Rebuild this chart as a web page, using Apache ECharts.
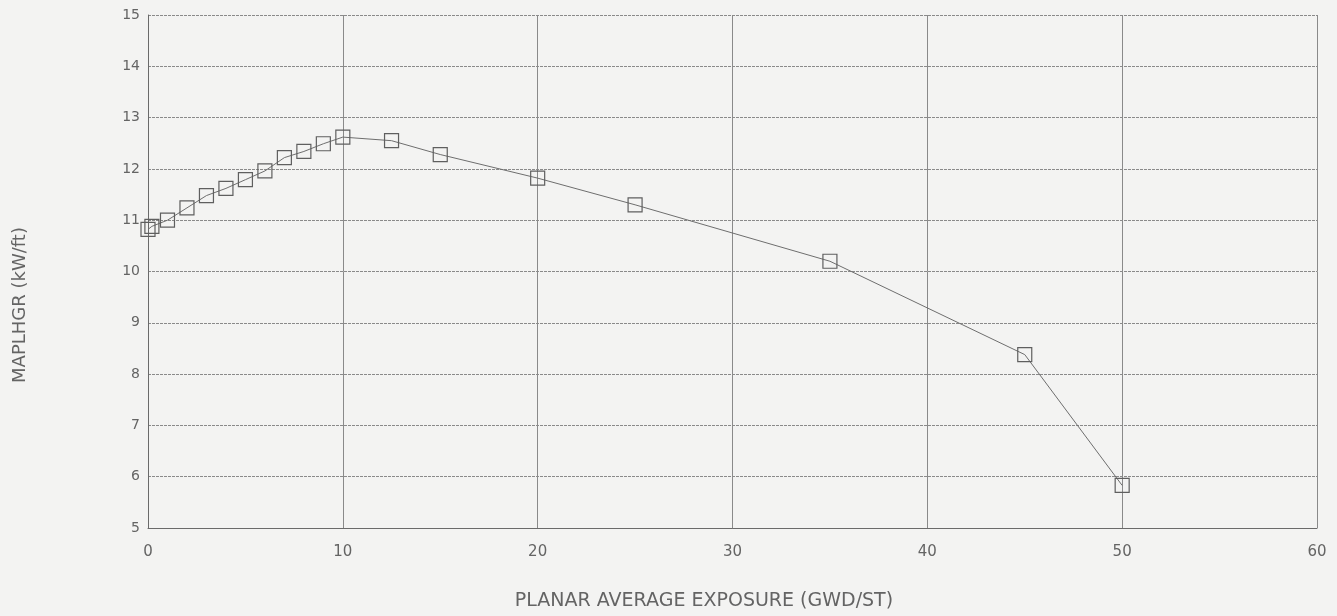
<!DOCTYPE html>
<html>
<head>
<meta charset="utf-8">
<script src="https://cdn.jsdelivr.net/npm/echarts@6/dist/echarts.min.js"></script>
<style>
  html, body { margin: 0; padding: 0; background: #f3f3f2; }
  #chart { width: 1337px; height: 616px; }
</style>
</head>
<body>
<div id="chart"></div>
<script>
// Planar average exposure (GWD/ST) and MAPLHGR limit (kW/ft)
const exposure = [0, 0.2, 1, 2, 3, 4, 5, 6, 7, 8, 9, 10, 12.5, 15, 20, 25, 35, 45, 50];
const maplhgr  = [10.82, 10.88, 11.0, 11.24, 11.48, 11.62, 11.79, 11.96, 12.22, 12.34, 12.49, 12.62, 12.55, 12.28, 11.82, 11.30, 10.20, 8.38, 5.83];

const xTitle = 'PLANAR AVERAGE EXPOSURE (GWD/ST)';
const yTitle = 'MAPLHGR (kW/ft)';

const points = exposure.map((x, i) => [x, maplhgr[i]]);

const chart = echarts.init(document.getElementById('chart'));
const inkText = '#646464';
const gridColor = '#8a8a8a';
const face = 'DejaVu Sans';

chart.setOption({
  backgroundColor: '#f3f3f2',
  animation: false,
  grid: { left: 148, right: 20, top: 15, bottom: 88 },
  graphic: [
    {
      type: 'text', x: 704, y: 601,
      style: { text: xTitle, align: 'center', verticalAlign: 'middle',
               fill: inkText, font: '19px "DejaVu Sans"' }
    },
    {
      type: 'text', x: 20, y: 305, rotation: Math.PI / 2,
      style: { text: yTitle, align: 'center', verticalAlign: 'middle',
               fill: inkText, font: '18px "DejaVu Sans"' }
    }
  ],
  xAxis: {
    type: 'value',
    min: 0, max: 60, interval: 10,
    axisLine: { show: true, lineStyle: { color: '#6a6a6a', width: 1 } },
    axisTick: { show: false },
    axisLabel: { color: inkText, fontFamily: face, fontSize: 15, margin: 17 },
    splitLine: { show: true, lineStyle: { color: gridColor, width: 1 } }
  },
  yAxis: {
    type: 'value',
    min: 5, max: 15, interval: 1,
    axisLine: { show: true, lineStyle: { color: '#6a6a6a', width: 1 } },
    axisTick: { show: false },
    axisLabel: { color: inkText, fontFamily: face, fontSize: 14, margin: 8 },
    splitLine: { show: true, lineStyle: { color: gridColor, width: 1, type: [3, 1] } }
  },
  series: [{
    type: 'line',
    data: points,
    symbol: 'rect',
    symbolSize: 14,
    showAllSymbol: true,
    lineStyle: { color: '#6e6e6e', width: 1 },
    itemStyle: { color: 'rgba(0,0,0,0)', borderColor: '#5f5f5f', borderWidth: 1.2 },
    emphasis: { disabled: true }
  }]
});
</script>
</body>
</html>
